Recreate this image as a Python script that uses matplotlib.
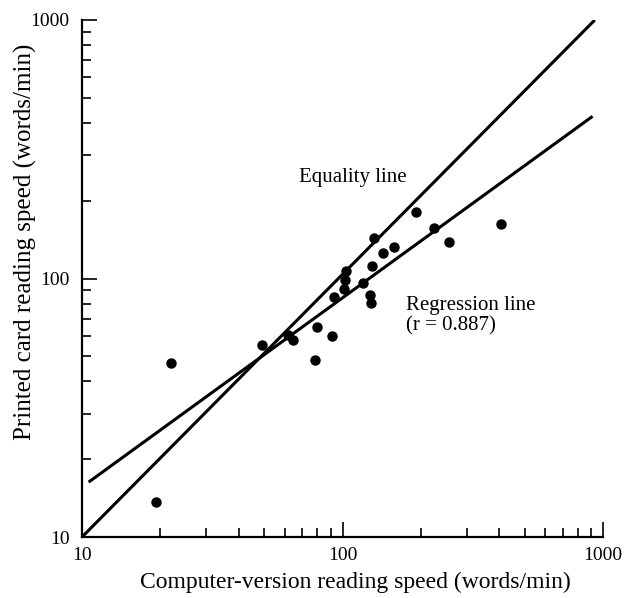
import numpy as np
import matplotlib.pyplot as plt
from matplotlib.ticker import LogLocator, NullFormatter, FixedLocator, FixedFormatter

# reading speeds (words/min)
computer_speed = [191, 405, 224, 256, 132, 143, 157, 130, 103, 102, 101, 93,
                  120, 127, 129, 80, 91.5, 61.6, 64.4, 49.2, 78.7, 22, 19.2]
card_speed = [181, 163, 157, 139, 143, 126, 132, 112, 107, 98.5, 91.2, 85,
              96.2, 86, 80.3, 64.7, 60.1, 60.4, 57.6, 55.1, 48.4, 47.1, 13.7]

# the two lines as drawn on the figure
equality_x = [10, 930]
equality_y = [10, 1000]
regression_x = [10.6, 912]
regression_y = [16.3, 424]

tick_values = [10, 100, 1000]
tick_labels = ['10', '100', '1000']

plt.rcParams['font.family'] = ['Liberation Serif', 'DejaVu Serif']

fig = plt.figure(figsize=(6.24, 5.98), dpi=100)
ax = fig.add_axes([82/624, 1-537/598, (603-82)/624, (537-20)/598])

ax.plot(equality_x, equality_y, color='black', lw=2.2, solid_capstyle='butt')
ax.plot(regression_x, regression_y, color='black', lw=2.2, solid_capstyle='butt')
ax.plot(computer_speed, card_speed, 'o', color='black', ms=6.5, zorder=3)

ax.set_xscale('log')
ax.set_yscale('log')
ax.set_xlim(10, 1000)
ax.set_ylim(10, 1000)

for a in (ax.xaxis, ax.yaxis):
    a.set_major_locator(FixedLocator(tick_values))
    a.set_major_formatter(FixedFormatter(tick_labels))
    a.set_minor_locator(LogLocator(base=10, subs=np.arange(2, 10)))
    a.set_minor_formatter(NullFormatter())

ax.spines['top'].set_visible(False)
ax.spines['right'].set_visible(False)
ax.spines['left'].set_linewidth(1.6)
ax.spines['bottom'].set_linewidth(1.6)
ax.tick_params(which='major', direction='in', length=11, width=1.2, labelsize=14, pad=9)
ax.tick_params(which='minor', direction='in', length=6.5, width=1.2)
ax.tick_params(axis='x', which='major', pad=7)

ax.text(68, 246, 'Equality line', fontsize=15, va='center', ha='left')
ax.text(176, 78.5, 'Regression line', fontsize=15, va='center', ha='left')
ax.text(176, 65.3, '(r = 0.887)', fontsize=15, va='center', ha='left')

ax.set_xlabel('Computer-version reading speed (words/min)', fontsize=17)
ax.set_ylabel('Printed card reading speed (words/min)', fontsize=18)
ax.xaxis.set_label_coords(0.524, -0.087)
ax.xaxis.label.set_va('center')
ax.yaxis.set_label_coords(-0.109, 0.571)
ax.yaxis.label.set_va('center')

fig.savefig('out.png', dpi=100)
